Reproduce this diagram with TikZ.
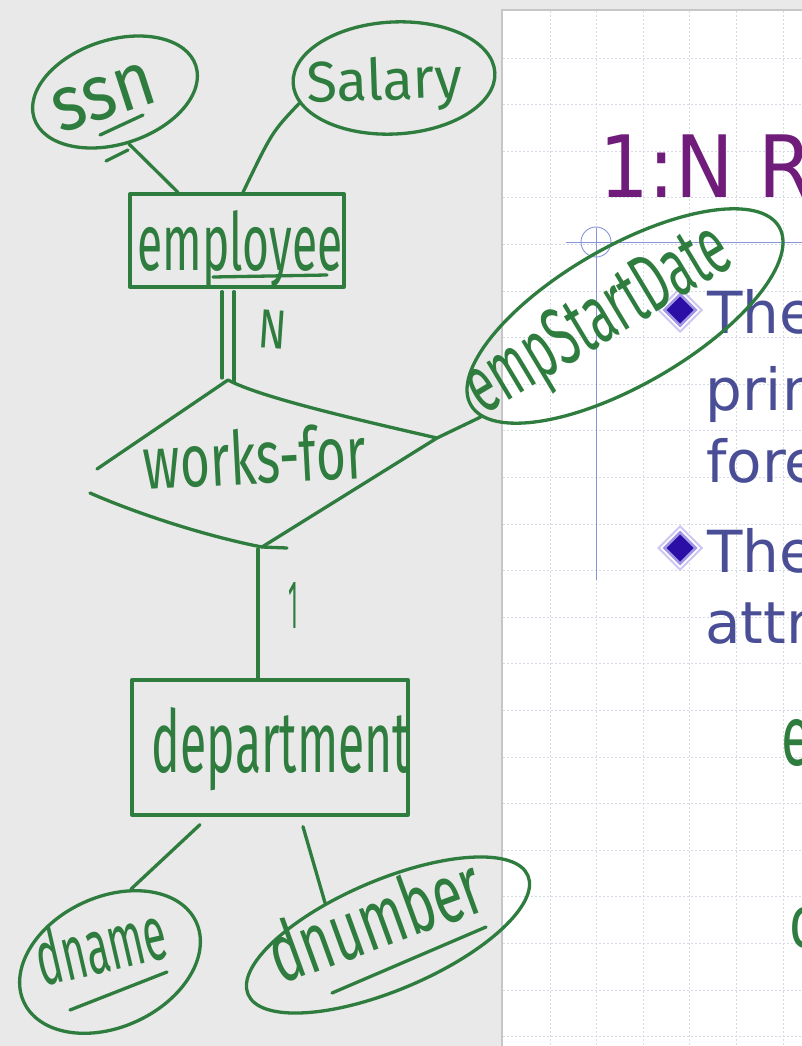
\documentclass[tikz,border=0pt]{standalone}
\usepackage{fontspec}
\usetikzlibrary{shapes.geometric,calc}
\newfontfamily\hand{Fira Sans}
\newfontfamily\slidefont{DejaVu Sans}
\definecolor{ink}{RGB}{46,124,62}
\definecolor{bg}{RGB}{233,233,233}
\definecolor{gridc}{RGB}{214,219,232}
\definecolor{guide}{RGB}{135,148,215}
\definecolor{titlec}{RGB}{112,28,122}
\definecolor{bodyc}{RGB}{74,78,150}
\definecolor{bulletd}{RGB}{42,14,165}
\definecolor{bulletl}{RGB}{205,198,242}
\definecolor{bulletm}{RGB}{160,150,228}
\newcommand{\hw}[3]{\resizebox{#1pt}{#2pt}{\hand #3}}
\begin{document}
\begin{tikzpicture}[x=1pt,y=-1pt,
  ink/.style={draw=ink, line width=3.3pt, line cap=round, line join=round},
  attr/.style={ink, ellipse, inner sep=0pt},
  entity/.style={ink, rectangle, inner sep=0pt},
  hwt/.style={anchor=base, inner sep=0pt, text=ink},
  gridline/.style={draw=gridc, line width=0.8pt, dash pattern=on 2pt off 2pt},
  guideline/.style={draw=guide, line width=0.9pt},
  bodytext/.style={anchor=base west, inner sep=0pt, text=bodyc, font=\slidefont\fontsize{58}{60}\selectfont},
  bdiam/.pic={
    \fill[bulletl] (0,-23)--(23,0)--(0,23)--(-23,0)--cycle;
    \fill[white] (0,-20)--(20,0)--(0,20)--(-20,0)--cycle;
    \fill[bulletm] (0,-17.5)--(17.5,0)--(0,17.5)--(-17.5,0)--cycle;
    \fill[bulletd] (0,-13.5)--(13.5,0)--(0,13.5)--(-13.5,0)--cycle;
  }]
\useasboundingbox (0,0) rectangle (802,1046);
\clip (0,0) rectangle (802,1046);
% backgrounds
\fill[bg] (0,0) rectangle (802,1046);
\fill[white] (502,10) rectangle (802,1046);
\draw[gray!45, line width=1.2pt] (502,1046) -- (502,10) -- (802,10);
\foreach \i in {0,...,5} \draw[gridline] ({550+46.6*\i},11) -- ({550+46.6*\i},1046);
\foreach \i in {0,...,21} \draw[gridline] (503,{58+46.6*\i}) -- (802,{58+46.6*\i});
% guides
\draw[guideline] (566,242) -- (802,242);
\draw[guideline] (596,228) -- (596,580);
\draw[guideline] (596,242) circle[radius=15];
% slide texts
\node[anchor=base west, inner sep=0pt, text=titlec, font=\slidefont\fontsize{86}{90}\selectfont] (title) at (599,197) {\scalebox{0.91}[1]{1:N R}};
\pic (b1) at (680,310) {bdiam};
\pic (b2) at (680,548) {bdiam};
\node[bodytext] (l1) at (707,333) {The};
\node[bodytext] (l2) at (705,410) {prin};
\node[bodytext] (l3) at (706,482) {fore};
\node[bodytext] (l4) at (707,572) {The};
\node[bodytext] (l5) at (705,643) {attr};
% ER shapes
\node[attr, minimum width=170pt, minimum height=104pt, rotate=18] (ssn) at (115,92) {};
\node[attr, minimum width=202pt, minimum height=112pt, rotate=3] (salary) at (394,78) {};
\node[entity, minimum width=214pt, minimum height=93pt] (emp) at (237,240.5) {};
\node[attr, minimum width=356pt, minimum height=138pt, rotate=30] (esd) at (625,316) {};
\node[entity, minimum width=276pt, minimum height=135pt] (dept) at (270,747.5) {};
\node[attr, minimum width=190pt, minimum height=130pt, rotate=25] (dname) at (110,962) {};
\node[attr, minimum width=304pt, minimum height=110pt, rotate=23] (dnum) at (388,935) {};
% relationship diamond
\coordinate (wt) at (228,380);
\coordinate (wr) at (437,438);
\coordinate (wb) at (262,547);
\coordinate (wl1) at (97,469);
\coordinate (wl2) at (90,493);
\draw[ink] (wl1) -- (wt) .. controls (260,397) and (350,418) .. (wr) -- (wb) .. controls (210,537) and (140,515) .. (wl2);
\draw[ink] (wb) -- ++(25,1);
% connectors
\draw[ink] (ssn.267) -- ([xshift=-59pt]emp.north);
\draw[ink] (salary.192) .. controls (272,132) .. ([xshift=6pt]emp.north);
\draw[ink] ($(wt |- emp.south)+(-6,3)$) -- ($(wt)+(-6,-2)$);
\draw[ink] ($(wt |- emp.south)+(6,3)$) -- ($(wt)+(6,2)$);
\draw[ink] (wr) -- (esd.185);
\draw[ink] ($(wb)+(-4,2)$) -- ($(wb |- dept.north)+(-4,0)$);
\draw[ink] ($(dept.south)+(-70,8)$) -- (dname.49);
\draw[ink] ($(dept.south)+(33,10)$) -- (dnum.130);
% underlines
\draw[ink] (100,135) -- (143,115);
\draw[ink] (106,161) -- (128,150);
\draw[ink] (213,277) -- (327,275);
\draw[ink] (70,1010) -- (167,972);
\draw[ink] (332,993) -- (486,927);
% handwritten texts
\node[hwt, rotate=18] (ssnt) at (110,117) {\hw{105}{42}{ssn}};
\node[hwt, rotate=2] (salt) at (385,100) {\hw{156}{43}{Salary}};
\node[hwt] (empt) at (240,270) {\hw{205}{60}{employee}};
\node[hwt, rotate=-4] (nt) at (271,348) {\hw{28}{38}{N}};
\node[hwt, rotate=3] (wft) at (256,484) {\hw{223}{56}{works-for}};
\node[hwt, rotate=31] (esdt) at (610,340) {\hw{295}{58}{empStartDate}};
\node[hwt] (onet) at (293,628) {\hw{10}{46}{1}};
\node[hwt] (deptt) at (281,772) {\hw{258}{65}{department}};
\node[hwt, rotate=13] (dnamet) at (107,972) {\hw{132}{58}{dname}};
\node[hwt, rotate=20] (dnumt) at (385,947) {\hw{222}{62}{dnumber}};
\node[hwt, anchor=base west] (pe) at (781,765) {\hw{30}{46}{e}};
\node[hwt, anchor=base west] (pc) at (789,947) {\hw{26}{40}{c}};
\end{tikzpicture}
\end{document}
